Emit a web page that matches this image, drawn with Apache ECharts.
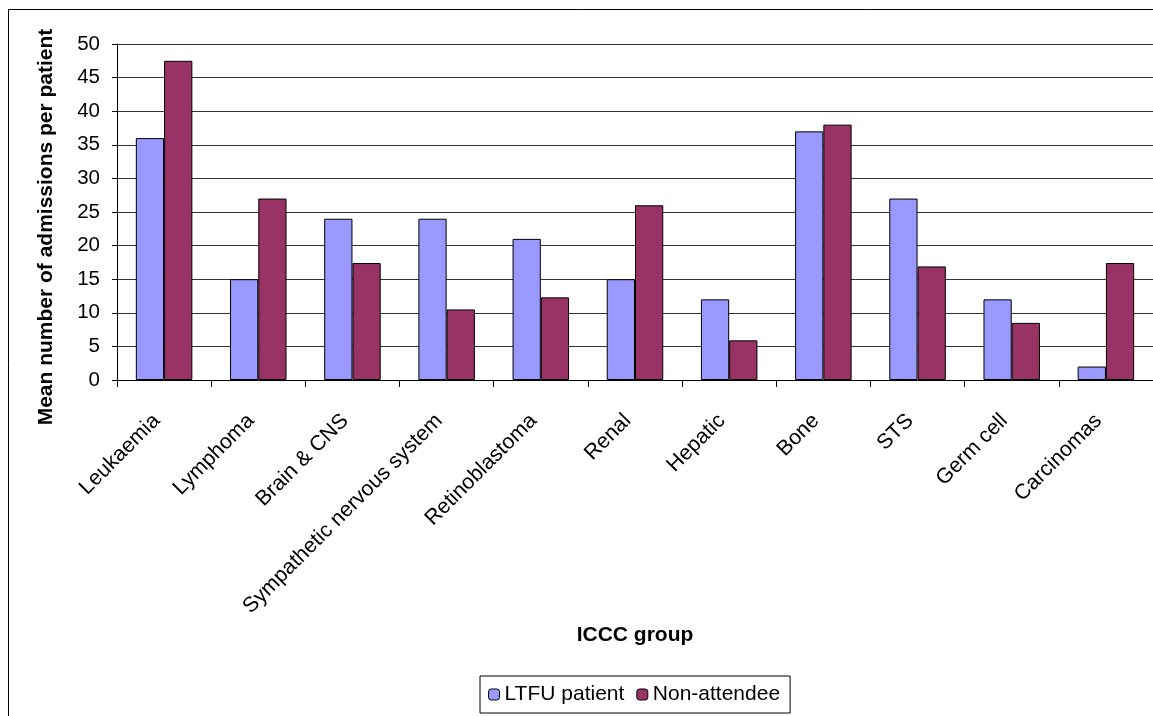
<!DOCTYPE html>
<html>
<head>
<meta charset="utf-8">
<script src="https://cdn.jsdelivr.net/npm/echarts@6/dist/echarts.min.js"></script>
<style>
  html, body { margin: 0; padding: 0; background: #fff; }
  #chart { width: 1153px; height: 716px; }
</style>
</head>
<body>
<div id="chart"></div>
<script>
// ICCC diagnostic groups
const categories = ['Leukaemia', 'Lymphoma', 'Brain & CNS', 'Sympathetic nervous system',
  'Retinoblastoma', 'Renal', 'Hepatic', 'Bone', 'STS', 'Germ cell', 'Carcinomas'];
// Mean number of admissions per patient
const ltfuPatient = [36, 15, 24, 24, 21, 15, 12, 37, 27, 12, 2];
const nonAttendee = [47.5, 27, 17.4, 10.5, 12.3, 26, 5.9, 38, 16.9, 8.5, 17.4];
const yTicks = [0, 5, 10, 15, 20, 25, 30, 35, 40, 45, 50];

const FONT = '"Liberation Sans", Arial, sans-serif';

const chart = echarts.init(document.getElementById('chart'));
chart.setOption({
  animation: false,
  backgroundColor: '#fff',
  textStyle: { fontFamily: FONT, color: '#000' },
  graphic: [{
    type: 'rect',
    shape: { x: 8.5, y: 9.5, width: 1300, height: 900 },
    style: { fill: 'none', stroke: '#000', lineWidth: 1 },
    silent: true
  }],
  legend: {
    bottom: 3,
    left: 480,
    itemWidth: 11,
    itemHeight: 11,
    itemGap: 12,
    padding: [8, 10, 8, 8],
    borderColor: '#000',
    borderWidth: 1,
    textStyle: { fontFamily: FONT, fontSize: 21, color: '#000' },
    data: [
      { name: 'LTFU patient', itemStyle: { borderColor: '#000', borderWidth: 1 } },
      { name: 'Non-attendee', itemStyle: { borderColor: '#000', borderWidth: 1 } }
    ]
  },
  grid: { left: 117, top: 44, right: -3, bottom: 336, containLabel: false },
  xAxis: {
    type: 'category',
    data: categories,
    name: 'ICCC group',
    nameLocation: 'middle',
    nameGap: 245,
    nameTextStyle: { fontFamily: FONT, fontSize: 21, fontWeight: 'bold', color: '#000' },
    axisLine: { lineStyle: { color: '#000', width: 1 } },
    axisTick: { show: true, length: 7, lineStyle: { color: '#000' } },
    axisLabel: {
      rotate: 45, fontSize: 21.3, color: '#000', margin: 45, fontFamily: FONT,
      interval: 0, verticalAlign: 'bottom'
    }
  },
  yAxis: {
    type: 'value',
    min: 0,
    max: 50,
    interval: 5,
    name: 'Mean number of admissions per patient',
    nameLocation: 'middle',
    nameGap: 60,
    nameTextStyle: {
      fontFamily: FONT, fontSize: 21, fontWeight: 'bold', color: '#000',
      padding: [0, 30, 0, 0]
    },
    axisLine: { show: true, lineStyle: { color: '#000', width: 1 } },
    axisTick: { show: true, length: 5, lineStyle: { color: '#000' } },
    axisLabel: {
      fontSize: 20.5, color: '#000', margin: 17, fontFamily: FONT,
      formatter: v => (yTicks.indexOf(v) >= 0 ? String(v) : '')
    },
    splitLine: { show: true, lineStyle: { color: '#333', width: 1 } }
  },
  series: [
    {
      name: 'LTFU patient',
      type: 'bar',
      data: ltfuPatient,
      barGap: '0%',
      barCategoryGap: '40%',
      itemStyle: { color: '#9999FF', borderColor: '#000', borderWidth: 1 }
    },
    {
      name: 'Non-attendee',
      type: 'bar',
      data: nonAttendee,
      itemStyle: { color: '#993366', borderColor: '#000', borderWidth: 1 }
    }
  ]
});
</script>
</body>
</html>
